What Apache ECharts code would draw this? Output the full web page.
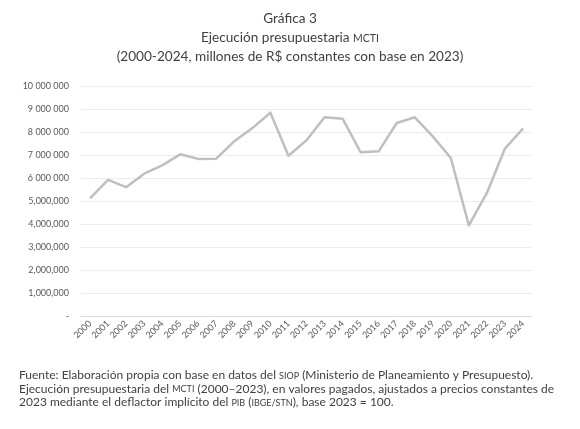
<!DOCTYPE html>
<html>
<head>
<meta charset="utf-8">
<script src="https://cdn.jsdelivr.net/npm/echarts@6/dist/echarts.min.js"></script>
<style>
  html, body { margin: 0; padding: 0; background: #fff; }
  #chart { width: 580px; height: 429px; }
</style>
</head>
<body>
<div id="chart"></div>
<script>
  // años y ejecución presupuestaria (R$ constantes 2023)
  const years = ['2000', '2001', '2002', '2003', '2004', '2005', '2006', '2007', '2008', '2009',
    '2010', '2011', '2012', '2013', '2014', '2015', '2016', '2017', '2018', '2019',
    '2020', '2021', '2022', '2023', '2024']
  const ejecucion = [5110000, 5920000, 5600000, 6190000, 6550000, 7030000, 6830000, 6840000, 7600000, 8170000,
    8840000, 6970000, 7640000, 8640000, 8580000, 7120000, 7160000, 8390000, 8640000, 7810000,
    6870000, 3940000, 5350000, 7280000, 8150000]
  const yTicks = [0, 1000000, 2000000, 3000000, 4000000, 5000000, 6000000, 7000000, 8000000, 9000000, 10000000]

  const font = 'Lato'
  const chart = echarts.init(document.getElementById('chart'))

  function fmtY(v) {
    if (v === 0) return '-'
    // el original mezcla separadores: espacios desde 6 millones, comas por debajo
    if (v >= 6000000) return String(v).replace(/\B(?=(\d{3})+(?!\d))/g, ' ')
    return String(v).replace(/\B(?=(\d{3})+(?!\d))/g, ',')
  }

  chart.setOption({
    animation: false,
    title: {
      text: '{n|Gráfica 3}\n{n|Ejecución presupuestaria }{sc|MCTI}\n{n|(2000-2024, millones de R$ constantes con base en 2023)}',
      left: 285,
      top: 2,
      textAlign: 'center',
      textStyle: {
        fontFamily: font,
        fontSize: 13.6,
        fontWeight: 'normal',
        color: '#3f3f3f',
        lineHeight: 19,
        rich: {
          n: { fontFamily: font, fontSize: 13.6, color: '#3f3f3f', lineHeight: 19, verticalAlign: 'bottom' },
          sc: { fontFamily: font, fontSize: 10.5, color: '#3f3f3f', lineHeight: 19, verticalAlign: 'bottom', padding: [0, 0, 1, 0] }
        }
      }
    },
    grid: {
      left: 81,
      right: 48,
      top: 86,
      bottom: 113,
      containLabel: false
    },
    xAxis: {
      type: 'category',
      data: years,
      boundaryGap: true,
      axisLine: { lineStyle: { color: '#d9d9d9', width: 1 } },
      axisTick: { show: false },
      axisLabel: {
        rotate: 45,
        interval: 0,
        fontFamily: font,
        fontSize: 9,
        color: '#595959',
        margin: 6
      }
    },
    yAxis: {
      type: 'value',
      min: yTicks[0],
      max: yTicks[yTicks.length - 1],
      interval: 1000000,
      axisLine: { show: false },
      axisTick: { show: false },
      splitLine: { lineStyle: { color: '#ececec', width: 1 } },
      axisLabel: {
        fontFamily: font,
        fontSize: 9,
        color: '#595959',
        margin: 12,
        formatter: fmtY
      }
    },
    series: [{
      type: 'line',
      data: ejecucion,
      symbol: 'none',
      lineStyle: { color: '#bfbfbf', width: 2.5, join: 'round' },
      itemStyle: { color: '#bfbfbf' }
    }],
    graphic: [{
      type: 'text',
      left: 19,
      top: 368,
      style: {
        text: '{n|Fuente: Elaboración propia con base en datos del }{sc|SIOP}{n| (Ministerio de Planeamiento y Presupuesto).}\n' +
          '{n|Ejecución presupuestaria del }{sc|MCTI}{n| (2000–2023), en valores pagados, ajustados a precios constantes de}\n' +
          '{n|2023 mediante el deflactor implícito del }{sc|PIB}{n| (}{sc|IBGE/STN}{n|), base 2023 = 100.}',
        fontFamily: font,
        fontSize: 12,
        lineHeight: 13.5,
        fill: '#3f3f3f',
        rich: {
          n: { fontFamily: font, fontSize: 12, fill: '#3f3f3f', lineHeight: 13.5, verticalAlign: 'bottom' },
          sc: { fontFamily: font, fontSize: 9, fill: '#3f3f3f', lineHeight: 13.5, verticalAlign: 'bottom', padding: [0, 0, 1, 0] }
        }
      }
    }]
  })
</script>
</body>
</html>
